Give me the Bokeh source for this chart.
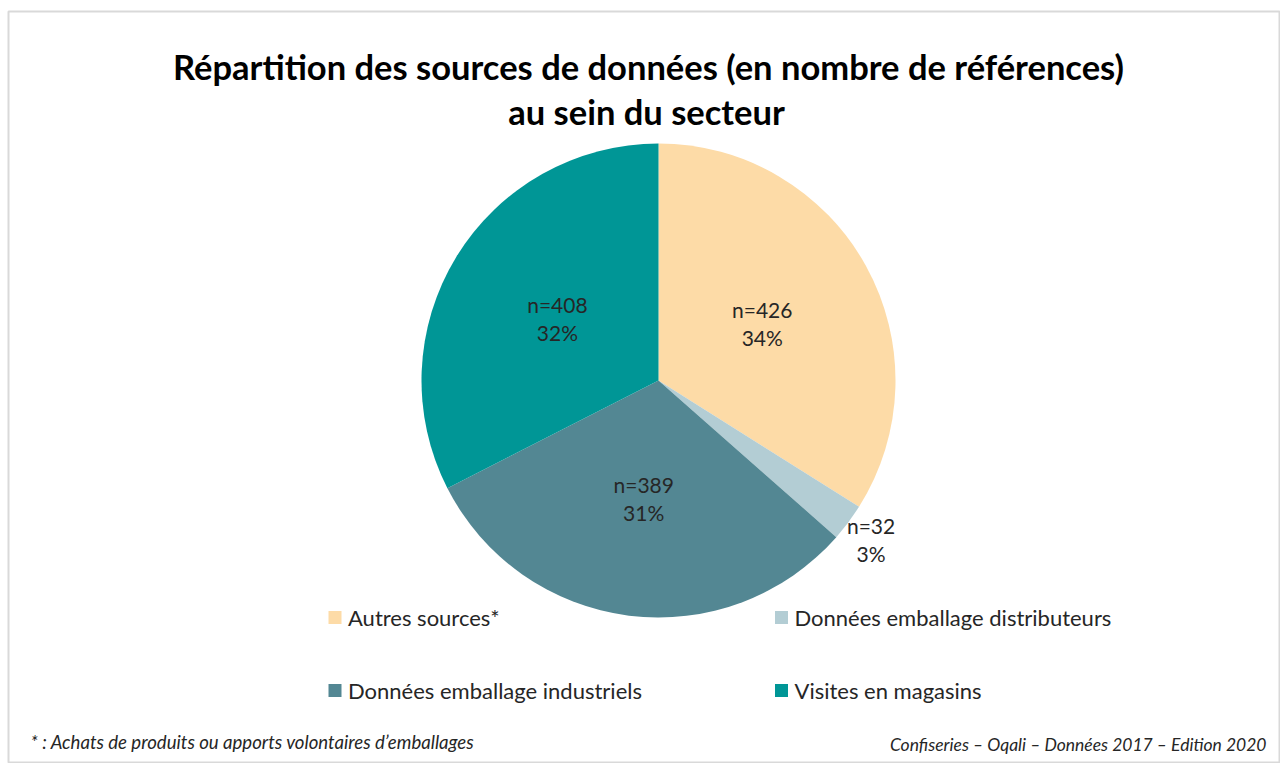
import math
from bokeh.plotting import figure
from bokeh.models import Range1d
from bokeh.core.properties import value
from bokeh.embed import file_html
from bokeh.resources import INLINE

# ---- data ----
categories = ["Autres sources*", "Données emballage distributeurs",
              "Données emballage industriels", "Visites en magasins"]
counts = [426, 32, 389, 408]
pct_labels = ["34%", "3%", "31%", "32%"]
colors = ["#FDDBA7", "#B3CDD4", "#538793", "#009696"]

title_lines = ["Répartition des sources de données (en nombre de références)",
               "au sein du secteur"]
note_left = "* : Achats de produits ou apports volontaires d\u2019emballages"
note_right = "Confiseries \u2013 Oqali \u2013 Données 2017 \u2013 Edition 2020"

# ---- layout (pixel-like data coordinates: x = screen x, y = 763 - screen y) ----
W, H = 1280, 763
p = figure(width=W, height=H, output_backend="svg", toolbar_location=None,
           x_range=Range1d(8, 1280), y_range=Range1d(0, 752),
           min_border_left=8, min_border_right=0, min_border_bottom=0,
           min_border_top=11)
p.axis.visible = False
p.grid.visible = False
p.outline_line_color = "#D9D9D9"
p.outline_line_width = 2
p.background_fill_color = "white"
p.border_fill_color = "white"

def Y(sy):
    return 763 - sy

cx, cy, R = 658, Y(380), 237
total = sum(counts)
starts, ends, mids = [], [], []
cum = 0
for c in counts:
    a0 = math.pi / 2 - 2 * math.pi * cum / total
    cum += c
    a1 = math.pi / 2 - 2 * math.pi * cum / total
    starts.append(a0)
    ends.append(a1)
    mids.append((a0 + a1) / 2)

p.wedge(x=[cx] * len(counts), y=[cy] * len(counts), radius=R,
        start_angle=starts, end_angle=ends, direction="clock",
        fill_color=colors, line_color=None)

# data labels
font = "Lato"
lx, ly, ln, lp = [], [], [], []
for c, pl, m in zip(counts, pct_labels, mids):
    share = c / total
    rr = R * (1.12 if share < 0.05 else 0.5)
    lx.append(cx + rr * math.cos(m))
    ly.append(cy + rr * math.sin(m))
    ln.append(f"n={c}")
    lp.append(pl)
p.text(x=lx, y=ly, text=ln, text_align="center", text_baseline="middle",
       y_offset=-14, text_font=value(font), text_font_size="21px",
       text_color="#262626")
p.text(x=lx, y=ly, text=lp, text_align="center", text_baseline="middle",
       y_offset=14, text_font=value(font), text_font_size="21px",
       text_color="#262626")

# title
p.text(x=[648, 646], y=[Y(66), Y(111)], text=title_lines, text_align="center",
       text_baseline="middle", text_font=value(font), text_font_style="bold",
       text_font_size="34.5px", text_color="#000000")

# legend
leg_mx = [334.5, 781, 334.5, 781]
leg_y = [Y(617), Y(617), Y(690), Y(690)]
p.scatter(x=leg_mx, y=leg_y, marker="square", size=13, fill_color=colors,
          line_color=None)
p.text(x=[m + 13 for m in leg_mx], y=leg_y, text=categories, text_align="left",
       text_baseline="middle", text_font=value(font), text_font_size="22px",
       text_color="#262626")

# footnotes
p.text(x=[30], y=[Y(741)], text=[note_left], text_align="left",
       text_baseline="middle", text_font=value(font), text_font_style="italic",
       text_font_size="18.6px", text_color="#262626")
p.text(x=[1266], y=[Y(744)], text=[note_right], text_align="right",
       text_baseline="middle", text_font=value(font), text_font_style="italic",
       text_font_size="17.5px", text_color="#262626")

open("out.html", "w").write(file_html(p, INLINE))
